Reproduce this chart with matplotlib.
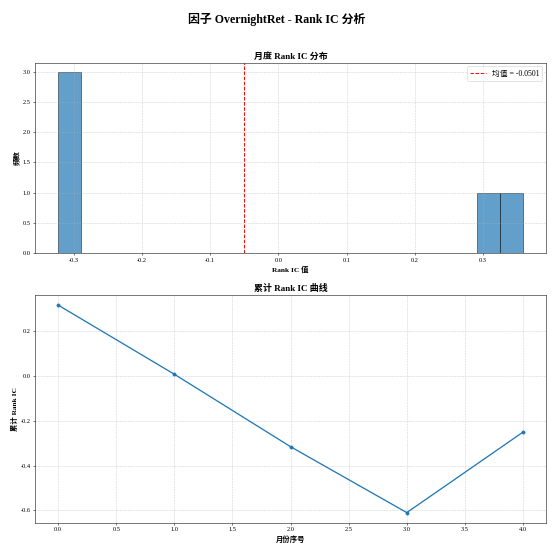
#coding:utf8
import numpy as np
import matplotlib
matplotlib.use("Agg")
import matplotlib.pyplot as plt

plt.rcParams['font.family'] = ['Liberation Serif', 'Noto Sans CJK SC', 'DejaVu Sans']
plt.rcParams['axes.unicode_minus'] = False

factor_name = "OvernightRet"
# 每月 Rank IC
monthly_ic = [0.316, -0.3084, -0.3232, -0.2939, 0.359]
month_idx = [0, 1, 2, 3, 4]
cum_ic = np.cumsum(monthly_ic)
mean_ic = np.mean(monthly_ic)

fig = plt.figure(figsize=(12, 12), dpi=554 / 12)
fig.suptitle(u"因子 %s - Rank IC 分析" % factor_name, fontsize=18.5, fontweight="bold", y=0.977)

# 上图: 分布
ax1 = fig.add_axes([0.063, 0.543, 0.923, 0.344])
ax1.hist(monthly_ic, bins=20, color="C0", alpha=0.7, edgecolor="black")
ax1.axvline(mean_ic, color="r", linestyle="--", linewidth=1.5, label=u"均值 = %.4f" % mean_ic)
ax1.set_title(u"月度 Rank IC 分布", fontsize=14, fontweight="bold")
ax1.set_xlabel(u"Rank IC 值", fontsize=11.5, fontweight="bold")
ax1.set_ylabel(u"频数", fontsize=11.5, fontweight="bold")
ax1.legend(loc="upper right", fontsize=12)
ax1.grid(True, linestyle="--", alpha=0.6)

# 下图: 累计曲线
ax2 = fig.add_axes([0.063, 0.056, 0.923, 0.412])
ax2.plot(month_idx, cum_ic, marker="o", markersize=5, linewidth=2, color="C0")
ax2.set_title(u"累计 Rank IC 曲线", fontsize=14, fontweight="bold")
ax2.set_xlabel(u"月份序号", fontsize=11.5, fontweight="bold")
ax2.set_ylabel(u"累计 Rank IC", fontsize=11.5, fontweight="bold")
ax2.grid(True, linestyle="--", alpha=0.6)

for ax in (ax1, ax2):
    ax.tick_params(labelsize=10)

fig.savefig("out.png", dpi=554 / 12)
